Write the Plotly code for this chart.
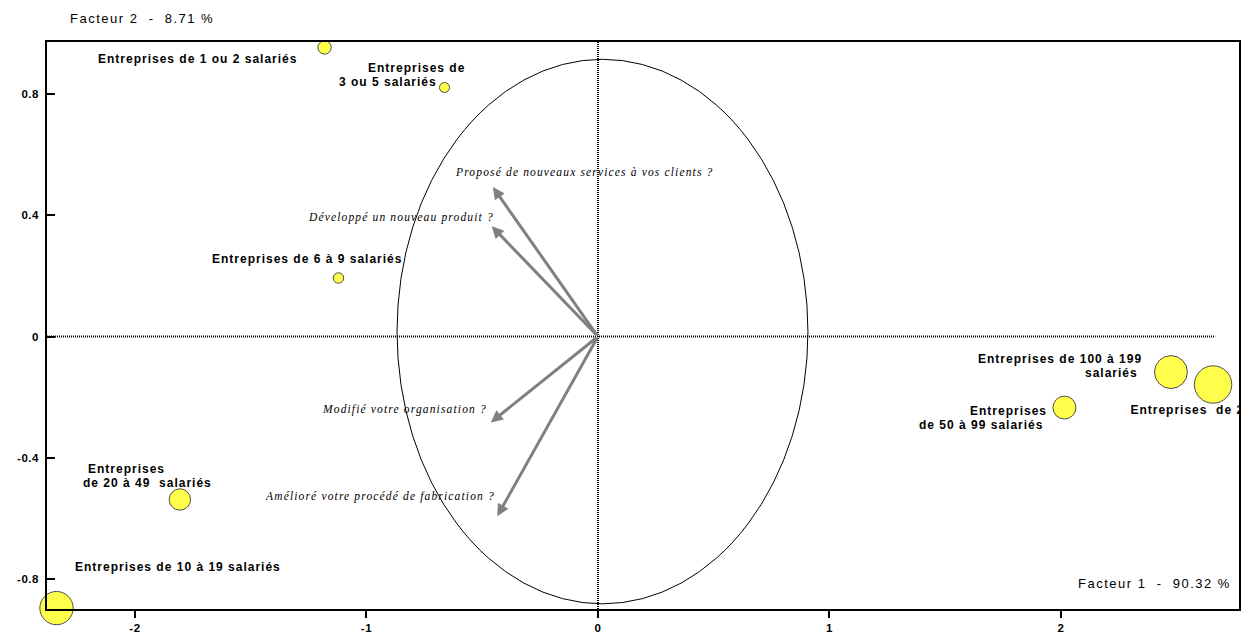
import plotly.graph_objects as go

# --- Individus : tailles d'entreprise projetées sur le plan factoriel (F1, F2)
classes = [
    "Entreprises de 1 ou 2 salariés",
    "Entreprises de 3 ou 5 salariés",
    "Entreprises de 6 à 9 salariés",
    "Entreprises de 10 à 19 salariés",
    "Entreprises de 20 à 49 salariés",
    "Entreprises de 50 à 99 salariés",
    "Entreprises de 100 à 199 salariés",
    "Entreprises de 200 salariés et plus",
]
f1 = [-1.181, -0.663, -1.121, -2.339, -1.806, 2.015, 2.475, 2.657]
f2 = [0.953, 0.821, 0.193, -0.895, -0.537, -0.234, -0.117, -0.158]
poids = [13.4, 10.0, 10.5, 33.3, 21.4, 23.0, 32.9, 37.4]

# --- Variables actives (questions) : coordonnées sur F1, F2
questions = [
    "Proposé de nouveaux services à vos clients ?",
    "Développé un nouveau produit ?",
    "Modifié votre organisation ?",
    "Amélioré votre procédé de fabrication ?",
]
q_f1 = [-0.454, -0.459, -0.463, -0.435]
q_f2 = [0.493, 0.364, -0.283, -0.592]

# --- Axes
x_ticks = [-2, -1, 0, 1, 2]
x_tick_text = ["-2", "-1", "0", "1", "2"]
y_ticks = [0.8, 0.4, 0, -0.4, -0.8]
y_tick_text = ["0.8", "0.4", "0", "-0.4", "-0.8"]
titre_f1 = "Facteur 1  -  90.32 %"
titre_f2 = "Facteur 2  -  8.71 %"

# --- Placement des étiquettes (texte, x, y) en coordonnées du plan
etiquettes_individus = [
    ("Entreprises de 1 ou 2 salariés", -2.168, 0.915),
    ("Entreprises de", -1.002, 0.885),
    ("3 ou 5 salariés", -1.127, 0.839),
    ("Entreprises de 6 à 9 salariés", -1.676, 0.256),
    ("Entreprises", -2.212, -0.437),
    ("de 20 à 49  salariés", -2.233, -0.483),
    ("Entreprises de 10 à 19 salariés", -2.268, -0.760),
    ("Entreprises de 100 à 199", 1.633, -0.074),
    ("salariés", 2.095, -0.120),
    ("Entreprises", 1.598, -0.246),
    ("de 50 à 99 salariés", 1.378, -0.292),
]
etiquette_coupee = ("Entreprises  de 200 salariés et plus", 2.300, -0.246)
etiquettes_questions = [
    (-0.626, 0.542),
    (-1.261, 0.394),
    (-1.201, -0.239),
    (-1.447, -0.526),
]

X_RANGE = [-2.380, 2.769]
Y_RANGE = [-0.898, 0.971]
CERCLE_X = (-0.868, 0.907)
CERCLE_Y = (-0.881, 0.914)

SANS = "Liberation Sans, Arial, sans-serif"
SERIF = "Liberation Serif, Times New Roman, serif"

fig = go.Figure()

# Individus : bulles jaunes
fig.add_trace(go.Scatter(
    x=f1, y=f2, mode="markers",
    marker=dict(size=poids, color="#FFFF00", line=dict(color="black", width=1)),
    cliponaxis=False, hoverinfo="text", hovertext=classes, showlegend=False,
))

# Étiquette tronquée au bord du cadre
fig.add_trace(go.Scatter(
    x=[etiquette_coupee[1]], y=[etiquette_coupee[2]], mode="text",
    text=[etiquette_coupee[0]], textposition="middle right",
    textfont=dict(family=SANS, size=12, color="black", weight=700),
    cliponaxis=True, hoverinfo="skip", showlegend=False,
))

annotations = []

# Flèches des variables depuis l'origine
for qx, qy in zip(q_f1, q_f2):
    annotations.append(dict(
        x=qx, y=qy, ax=0, ay=0, xref="x", yref="y", axref="x", ayref="y",
        text="", showarrow=True, arrowhead=2, arrowsize=0.8, arrowwidth=3,
        arrowcolor="#808080", standoff=0, startstandoff=0,
    ))

# Libellés des variables (italique)
for q, (lx, ly) in zip(questions, etiquettes_questions):
    annotations.append(dict(
        x=lx, y=ly, xref="x", yref="y", text=q, showarrow=False,
        xanchor="left", yanchor="middle", align="left",
        font=dict(family=SERIF, size=11.5, color="black", style="italic"),
    ))

# Libellés des individus (gras)
for txt, lx, ly in etiquettes_individus:
    annotations.append(dict(
        x=lx, y=ly, xref="x", yref="y", text=txt, showarrow=False,
        xanchor="left", yanchor="middle", align="left",
        font=dict(family=SANS, size=12, color="black", weight=700),
    ))

# Titres des facteurs
annotations.append(dict(
    x=0.0176, y=1.042, xref="paper", yref="paper", text=titre_f2,
    showarrow=False, xanchor="left", yanchor="middle", align="left",
    font=dict(family=SANS, size=13, color="black"),
))
annotations.append(dict(
    x=2.065, y=-0.813, xref="x", yref="y", text=titre_f1,
    showarrow=False, xanchor="left", yanchor="middle", align="left",
    font=dict(family=SANS, size=13, color="black"),
))

shapes = [
    # cercle des corrélations
    dict(type="circle", xref="x", yref="y",
         x0=CERCLE_X[0], x1=CERCLE_X[1], y0=CERCLE_Y[0], y1=CERCLE_Y[1],
         line=dict(color="black", width=1), layer="below"),
    # axes pointillés passant par l'origine
    dict(type="line", xref="x", yref="paper", x0=0, x1=0, y0=0, y1=1,
         line=dict(color="black", width=2, dash="1px,1px"), layer="below"),
    dict(type="line", xref="paper", yref="y", x0=0, x1=0.98, y0=0, y1=0,
         line=dict(color="black", width=2, dash="1px,1px"), layer="below"),
]

fig.update_layout(
    width=1258, height=635,
    margin=dict(l=47, r=19, t=42, b=26, autoexpand=False),
    paper_bgcolor="white", plot_bgcolor="white",
    annotations=annotations, shapes=shapes,
    xaxis=dict(
        range=X_RANGE, showgrid=False, zeroline=False, automargin=False,
        showline=True, linecolor="black", linewidth=1.5, mirror=True,
        tickmode="array", tickvals=x_ticks, ticktext=x_tick_text,
        ticks="outside", ticklen=7, tickcolor="black", tickwidth=1.5,
        tickfont=dict(family=SANS, size=11.5, color="black", weight=700),
    ),
    yaxis=dict(
        range=Y_RANGE, showgrid=False, zeroline=False, automargin=False,
        showline=True, linecolor="black", linewidth=1.5, mirror=True,
        tickmode="array", tickvals=y_ticks, ticktext=y_tick_text,
        ticks="inside", ticklen=8, tickcolor="black", tickwidth=1.5,
        tickfont=dict(family=SANS, size=11.5, color="black", weight=700),
        ticklabelstandoff=4,
    ),
)

# Espacement des lettres des libellés
post = """
document.querySelectorAll('text.annotation-text').forEach(function(t){
  var s = t.style;
  if (s.fontStyle === 'italic') { s.letterSpacing = '1.15px'; }
  else if (s.fontWeight === '700' || s.fontWeight === 'bold') { s.letterSpacing = '1px'; }
  else { s.letterSpacing = '1.5px'; }
});
document.querySelectorAll('.textpoint text').forEach(function(t){ t.style.letterSpacing = '1px'; });
document.querySelectorAll('.xtick text, .ytick text').forEach(function(t){ t.style.letterSpacing = '0.5px'; });
"""

fig.write_html("out.html", post_script=post)
